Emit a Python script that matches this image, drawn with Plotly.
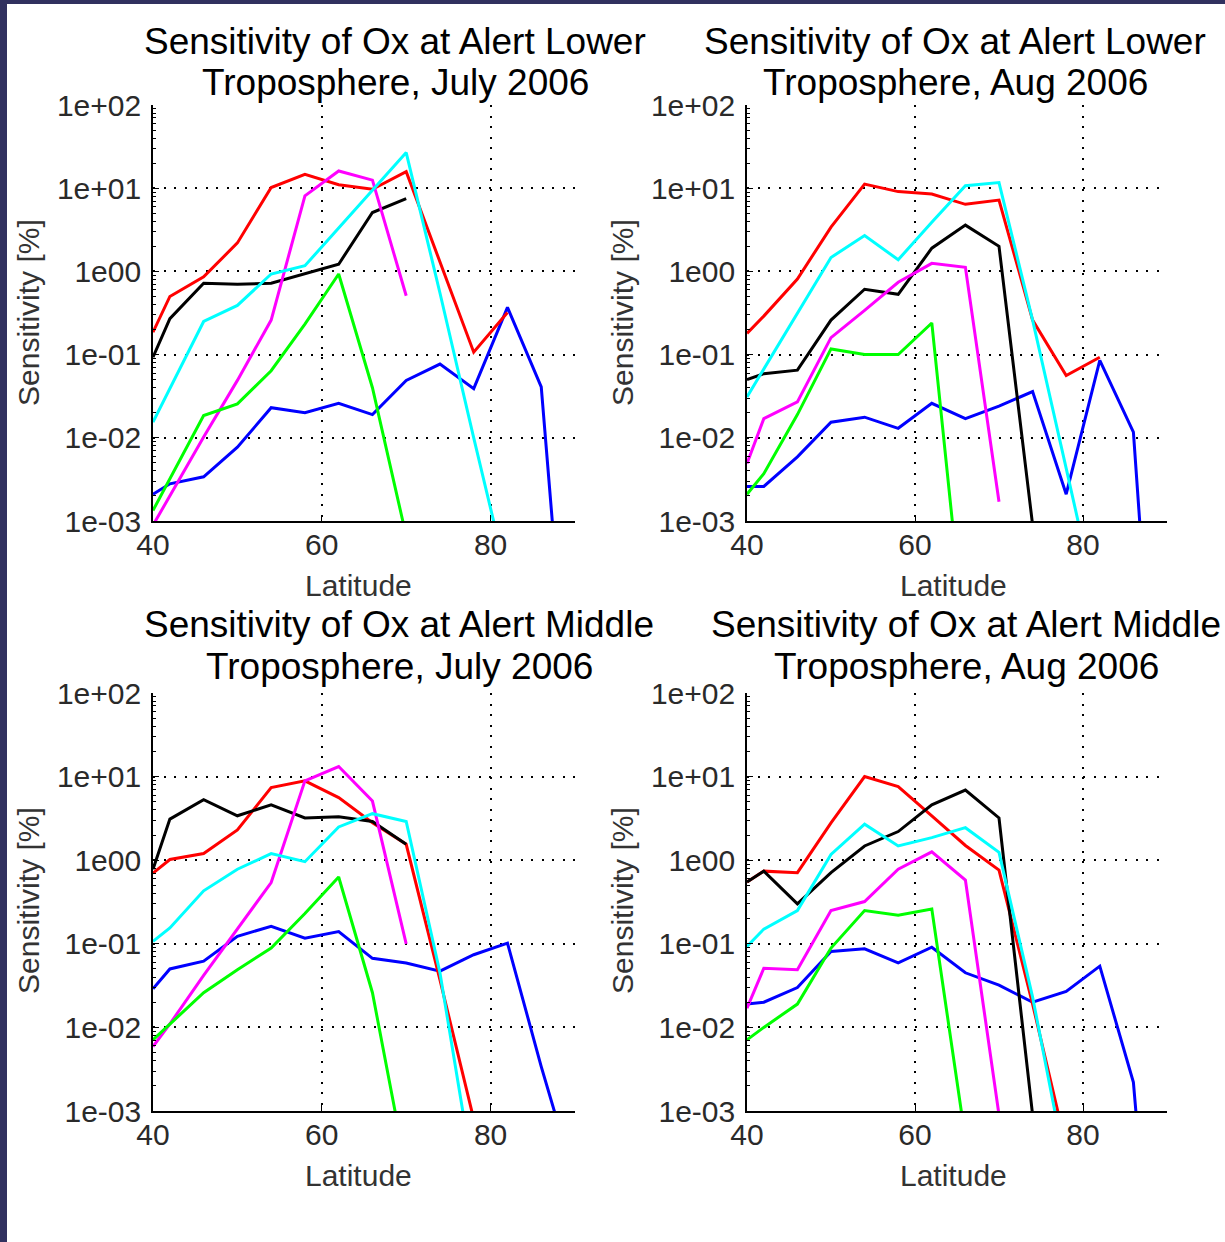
import plotly.graph_objects as go

W, H = 1225, 1242

LAT = [40, 42, 46, 50, 54, 58, 62, 66, 70, 74, 78, 82, 86, 88]

TICK_VALS = [1e-3, 1e-2, 1e-1, 1e0, 1e1, 1e2]
TICK_TEXT = ["1e-03", "1e-02", "1e-01", "1e00", "1e+01", "1e+02"]
X_TICKS = [40, 60, 80]

TITLES = [
    ("Sensitivity of Ox at Alert Lower", "Troposphere, July 2006"),
    ("Sensitivity of Ox at Alert Lower", "Troposphere, Aug 2006"),
    ("Sensitivity of Ox at Alert Middle", "Troposphere, July 2006"),
    ("Sensitivity of Ox at Alert Middle", "Troposphere, Aug 2006"),
]

# ---- Lower troposphere, July 2006
lj_blue = [0.0021, 0.0028, 0.0034, 0.0077, 0.023, 0.020, 0.026, 0.019, 0.049, 0.077, 0.039, 0.37, 0.041, 0.00014]
lj_red = [0.186, 0.50, 0.86, 2.2, 10.2, 14.7, 11.0, 9.7, 15.8, 1.3, 0.107, 0.32, None, None]
lj_black = [0.093, 0.27, 0.72, 0.70, 0.72, 0.93, 1.22, 5.1, 7.5, None, None, None, None, None]
lj_magenta = [0.00089, 0.002, 0.0102, 0.049, 0.26, 8.1, 16.1, 12.5, 0.51, None, None, None, None, None]
lj_green = [0.00134, 0.0032, 0.0185, 0.0256, 0.064, 0.233, 0.93, 0.04, 0.00066, None, None, None, None, None]
lj_cyan = [0.0154, 0.039, 0.25, 0.39, 0.93, 1.17, 3.3, 9.5, 26.8, 0.55, 0.01, 0.0002, None, None]

# ---- Lower troposphere, Aug 2006
la_blue = [0.0026, 0.0026, 0.0059, 0.0154, 0.0177, 0.013, 0.026, 0.017, 0.024, 0.036, 0.0021, 0.085, 0.0117, 0.000016]
la_red = [0.18, 0.29, 0.81, 3.4, 11.2, 9.1, 8.5, 6.4, 7.2, 0.26, 0.056, 0.093, None, None]
la_black = [0.05, 0.059, 0.065, 0.26, 0.61, 0.53, 1.9, 3.6, 2.0, 0.0009, None, None, None, None]
la_magenta = [0.0049, 0.017, 0.027, 0.16, 0.34, 0.74, 1.25, 1.12, 0.0017, None, None, None, None, None]
la_green = [0.0021, 0.0037, 0.019, 0.117, 0.10, 0.10, 0.24, 0.00003, None, None, None, None, None, None]
la_cyan = [0.031, 0.067, 0.32, 1.47, 2.7, 1.38, 3.9, 10.7, 11.7, 0.26, 0.0043, 0.000068, None, None]

# ---- Middle troposphere, July 2006
mj_blue = [0.029, 0.05, 0.062, 0.123, 0.162, 0.117, 0.14, 0.067, 0.059, 0.047, 0.074, 0.102, 0.0034, 0.0007]
mj_red = [0.70, 1.02, 1.2, 2.3, 7.4, 8.9, 5.6, 2.8, 1.55, 0.037, 0.0008, None, None, None]
mj_black = [0.78, 3.1, 5.3, 3.4, 4.6, 3.2, 3.3, 2.9, 1.55, None, None, None, None, None]
mj_magenta = [0.0059, 0.011, 0.042, 0.15, 0.54, 8.9, 13.2, 5.1, 0.10, None, None, None, None, None]
mj_green = [0.0071, 0.011, 0.026, 0.049, 0.089, 0.23, 0.63, 0.026, 0.0002, None, None, None, None, None]
mj_cyan = [0.107, 0.155, 0.43, 0.78, 1.2, 0.96, 2.5, 3.6, 2.9, 0.045, 0.00016, None, None, None]

# ---- Middle troposphere, Aug 2006
ma_blue = [0.019, 0.020, 0.030, 0.081, 0.087, 0.059, 0.091, 0.045, 0.032, 0.020, 0.027, 0.054, 0.0022, 0.00001]
ma_red = [0.55, 0.74, 0.71, 2.8, 10.0, 7.6, 3.4, 1.5, 0.76, 0.019, 0.00037, None, None, None]
ma_black = [0.55, 0.74, 0.30, 0.71, 1.48, 2.2, 4.6, 6.9, 3.2, 0.0009, None, None, None, None]
ma_magenta = [0.017, 0.051, 0.049, 0.25, 0.32, 0.78, 1.26, 0.58, 0.0009, None, None, None, None, None]
ma_green = [0.0071, 0.01, 0.019, 0.089, 0.25, 0.22, 0.26, 0.00046, None, None, None, None, None, None]
ma_cyan = [0.093, 0.15, 0.25, 1.17, 2.7, 1.48, 1.86, 2.45, 1.24, 0.023, 0.0002, None, None, None]

PANELS = [
    [("blue", lj_blue), ("red", lj_red), ("black", lj_black), ("magenta", lj_magenta), ("green", lj_green), ("cyan", lj_cyan)],
    [("blue", la_blue), ("red", la_red), ("black", la_black), ("magenta", la_magenta), ("green", la_green), ("cyan", la_cyan)],
    [("blue", mj_blue), ("red", mj_red), ("black", mj_black), ("magenta", mj_magenta), ("green", mj_green), ("cyan", mj_cyan)],
    [("blue", ma_blue), ("red", ma_red), ("black", ma_black), ("magenta", ma_magenta), ("green", ma_green), ("cyan", ma_cyan)],
]

COLORS = {"blue": "#0000ff", "red": "#ff0000", "black": "#000000",
          "magenta": "#ff00ff", "green": "#00ff00", "cyan": "#00ffff"}

FONT = "Liberation Sans, Arial, Helvetica, sans-serif"

# panel boxes in pixels: (left, right, top, bottom)
BOXES = [(153, 575, 105, 521), (747, 1167, 105, 521),
         (153, 575, 693, 1111), (747, 1167, 693, 1111)]
TITLE_X = [395, 955, 399, 966]
TITLE_Y = [(41, 83), (41, 83), (624, 666), (624, 666)]
XLAB_Y = [585, 585, 1175, 1175]
XLAB_X = [358, 953, 358, 953]
YLAB_X = [28, 622, 28, 622]
YLAB_Y = [313, 313, 901, 901]

minor_vals = [m * 10 ** e for e in range(-3, 2) for m in range(2, 10)]

fig = go.Figure()
for i, series in enumerate(PANELS):
    xa = "x" if i == 0 else f"x{i + 1}"
    ya = "y" if i == 0 else f"y{i + 1}"
    for cname, vals in series:
        fig.add_trace(go.Scatter(x=LAT, y=vals, mode="lines", xaxis=xa, yaxis=ya,
                                 line=dict(color=COLORS[cname], width=3),
                                 showlegend=False, connectgaps=False, hoverinfo="skip"))

layout = dict(
    width=W, height=H, margin=dict(l=0, r=0, t=0, b=0, pad=0, autoexpand=False),
    paper_bgcolor="white", plot_bgcolor="white", showlegend=False,
    font=dict(family=FONT, color="#222"),
)

annotations = []
shapes = []
for i, (l, r, t, b) in enumerate(BOXES):
    xk = "xaxis" if i == 0 else f"xaxis{i + 1}"
    yk = "yaxis" if i == 0 else f"yaxis{i + 1}"
    yanc = "y" if i == 0 else f"y{i + 1}"
    xanc = "x" if i == 0 else f"x{i + 1}"
    layout[xk] = dict(
        domain=[l / W, r / W], anchor=yanc, range=[40, 90], automargin=False,
        tickmode="array", tickvals=X_TICKS, ticktext=[str(v) for v in X_TICKS],
        ticks="inside", ticklen=6, tickwidth=1.2, tickcolor="black",
        showline=True, linecolor="black", linewidth=1.6, mirror=False,
        showgrid=True, gridcolor="black", gridwidth=1.5, griddash="2px,8.5px",
        zeroline=False, tickfont=dict(size=30, color="#2a2a2a", family=FONT),
        ticklabelstandoff=-4,
    )
    layout[yk] = dict(
        domain=[1 - b / H, 1 - t / H], anchor=xanc, type="log", range=[-3, 2], automargin=False,
        tickmode="array", tickvals=TICK_VALS, ticktext=TICK_TEXT,
        ticks="inside", ticklen=6, tickwidth=1.2, tickcolor="black",
        minor=dict(tickmode="array", tickvals=minor_vals, ticks="inside", ticklen=3,
                   tickwidth=1, tickcolor="black", showgrid=False),
        showline=True, linecolor="black", linewidth=1.6, mirror=False,
        showgrid=True, gridcolor="black", gridwidth=1.5, griddash="2px,8.5px",
        zeroline=False, tickfont=dict(size=30, color="#2a2a2a", family=FONT),
        ticklabelstandoff=4,
    )
    line1, line2 = TITLES[i]
    for txt, yy in zip((line1, line2), TITLE_Y[i]):
        annotations.append(dict(text=txt, x=TITLE_X[i] / W, y=1 - yy / H, xref="paper", yref="paper",
                                xanchor="center", yanchor="middle", showarrow=False,
                                font=dict(size=37, color="black", family=FONT)))
    annotations.append(dict(text="Latitude", x=XLAB_X[i] / W, y=1 - XLAB_Y[i] / H, xref="paper", yref="paper",
                            xanchor="center", yanchor="middle", showarrow=False,
                            font=dict(size=30, color="#333", family=FONT)))
    annotations.append(dict(text="Sensitivity [%]", x=YLAB_X[i] / W, y=1 - YLAB_Y[i] / H, xref="paper", yref="paper",
                            xanchor="center", yanchor="middle", showarrow=False, textangle=-90,
                            font=dict(size=30, color="#333", family=FONT)))

# dark frame on the top and left edges of the picture
shapes.append(dict(type="rect", xref="paper", yref="paper", x0=0, x1=7 / W, y0=0, y1=1,
                   fillcolor="#31315f", line=dict(width=0), layer="above"))
shapes.append(dict(type="rect", xref="paper", yref="paper", x0=0, x1=1, y0=1 - 4 / H, y1=1,
                   fillcolor="#31315f", line=dict(width=0), layer="above"))

layout["annotations"] = annotations
layout["shapes"] = shapes
fig.update_layout(**layout)

fig.write_html("out.html")
